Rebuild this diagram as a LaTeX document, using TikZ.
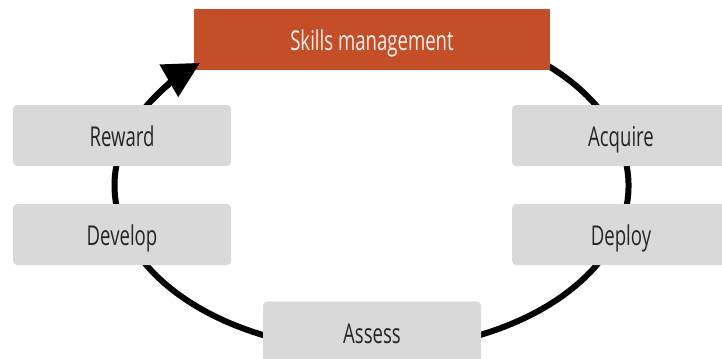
\documentclass[tikz,border=0pt]{standalone}
\usepackage{fontspec}
\setmainfont{Open Sans}[FakeStretch=0.68]
\usepackage{xcolor}
\usetikzlibrary{arrows.meta}
\definecolor{rust}{HTML}{C44E28}
\definecolor{stagegray}{HTML}{D9D9D9}
\tikzset{
  stage/.style={fill=stagegray, rounded corners=3pt, minimum width=163.5pt,
    minimum height=45.75pt, text height=20pt, text depth=2.8pt,
    text=black!85, font=\fontsize{20.5}{24}\selectfont},
  headbox/.style={fill=rust, minimum width=267pt, minimum height=45.75pt,
    text height=20pt, text depth=2.8pt,
    text=white!92!rust, font=\fontsize{20.5}{24}\selectfont},
  cycle line/.style={line width=4.5pt},
}
\begin{document}
\begin{tikzpicture}[x=0.75pt,y=0.75pt]
\useasboundingbox (0,0) rectangle (722,-358);
\coordinate (hub) at (371.5,-185.6);
% the cycle, under the boxes
\draw[cycle line] (hub) ++(60:257 and 164.8)
  arc[start angle=60, end angle=-218, x radius=257, y radius=164.8];
\node[headbox] (skills) at (372,-39.5) {Skills management};
\node[stage] (reward)  at (122,-135.5) {Reward};
\node[stage] (develop) at (122,-234.5) {Develop};
\node[stage] (acquire) at (621,-135.5) {Acquire};
\node[stage] (deploy)  at (621,-234.5) {Deploy};
\node[stage] (assess)  at (372,-332)   {Assess};
% last piece with the tip, over the head box
\draw[cycle line, -{Triangle[length=27pt,width=27pt]}]
  (hub) ++(149:257 and 164.8)
  arc[start angle=149, end angle=131.85, x radius=257, y radius=164.8];
\end{tikzpicture}
\end{document}
